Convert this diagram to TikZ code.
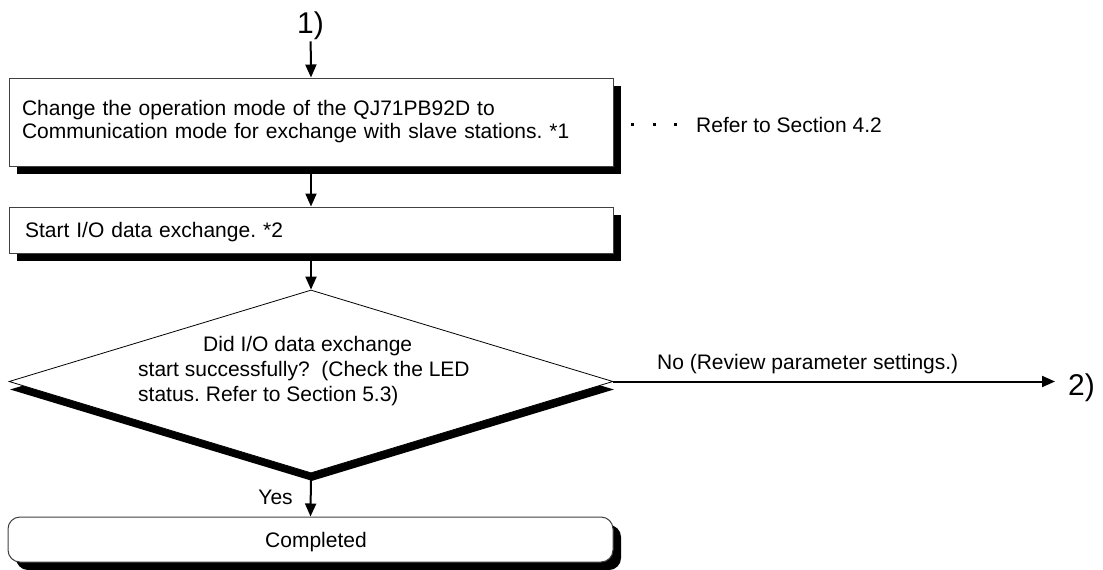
\documentclass[tikz,border=0pt]{standalone}
\usepackage{fontspec}
\setmainfont{Liberation Sans}
\usetikzlibrary{arrows.meta,shapes.geometric}
\frenchspacing
\begin{document}
\begin{tikzpicture}[x=1pt,y=-1pt,
  txt/.style={font=\fontsize{21}{23}\selectfont},
  big/.style={font=\fontsize{30}{30}\selectfont, inner sep=2pt},
  shadowbox/.style={draw=black!75, line width=1pt, fill=white,
    preaction={fill=black, transform canvas={shift={(8pt,-8pt)}}}},
  stepbox/.style={shadowbox, txt, minimum width=604pt, align=left},
  decision/.style={diamond, draw=black, line width=0.8pt, fill=white, inner sep=0pt,
    minimum width=604pt, minimum height=183pt,
    preaction={fill=black, transform canvas={shift={(1pt,-8pt)}}}},
  endbox/.style={shadowbox, txt, rounded corners=12pt, minimum width=605pt, minimum height=45pt, text depth=0pt},
  arr/.style={line width=2pt, -{Triangle[length=13pt,width=11pt]}},
  dotline/.style={line width=3pt, dash pattern=on 3pt off 18.5pt},
  lbl/.style={txt, inner sep=0pt}
]
\useasboundingbox (0,0) rectangle (1103,570);

\node[big, anchor=base] (n1) at (310.5,33) {1)};

\node[stepbox, minimum height=88pt, inner xsep=13pt, text width=578pt] (b1) at (311,122)
  {Change the operation mode of the QJ71PB92D to\\Communication mode for exchange with slave stations. *1};

\node[lbl, anchor=base west] (ref) at (696,132.5) {Refer to Section 4.2};

\node[stepbox, minimum height=46pt, inner xsep=16pt, text width=572pt, text depth=0pt] (b2) at (311,230)
  {Start I/O data exchange. *2};

\node[decision] (d) at (311,381.5) {};
\node[lbl, font=\fontsize{21}{25}\selectfont, align=left, anchor=north west] (dq) at (138,336)
  {\hspace*{65pt}Did I/O data exchange\\start successfully?~~(Check the LED\\status. Refer to Section 5.3)};

\node[endbox] (c) at (310.5,539.5) {\hspace*{11pt}Completed};

\node[big, anchor=base west, inner xsep=13pt] (n2) at (1055,395) {2)};

\draw[arr] (n1) -- (b1.north);
\draw[arr] (b1.south) -- (b2.north);
\draw[arr] (b2.south) -- (d.north);
\draw[arr] (d.south) -- node[lbl, pos=0.55, left=17pt] (yes) {Yes} (c.north);
\draw[arr] (d.east) -- node[lbl, pos=0.44, above=7pt] (no) {No (Review parameter settings.)} (d.east -| n2.west);
\draw[dotline, shorten <=17.5pt, shorten >=16pt] (b1.east |- ref.west) -- (ref.west);
\end{tikzpicture}
\end{document}
